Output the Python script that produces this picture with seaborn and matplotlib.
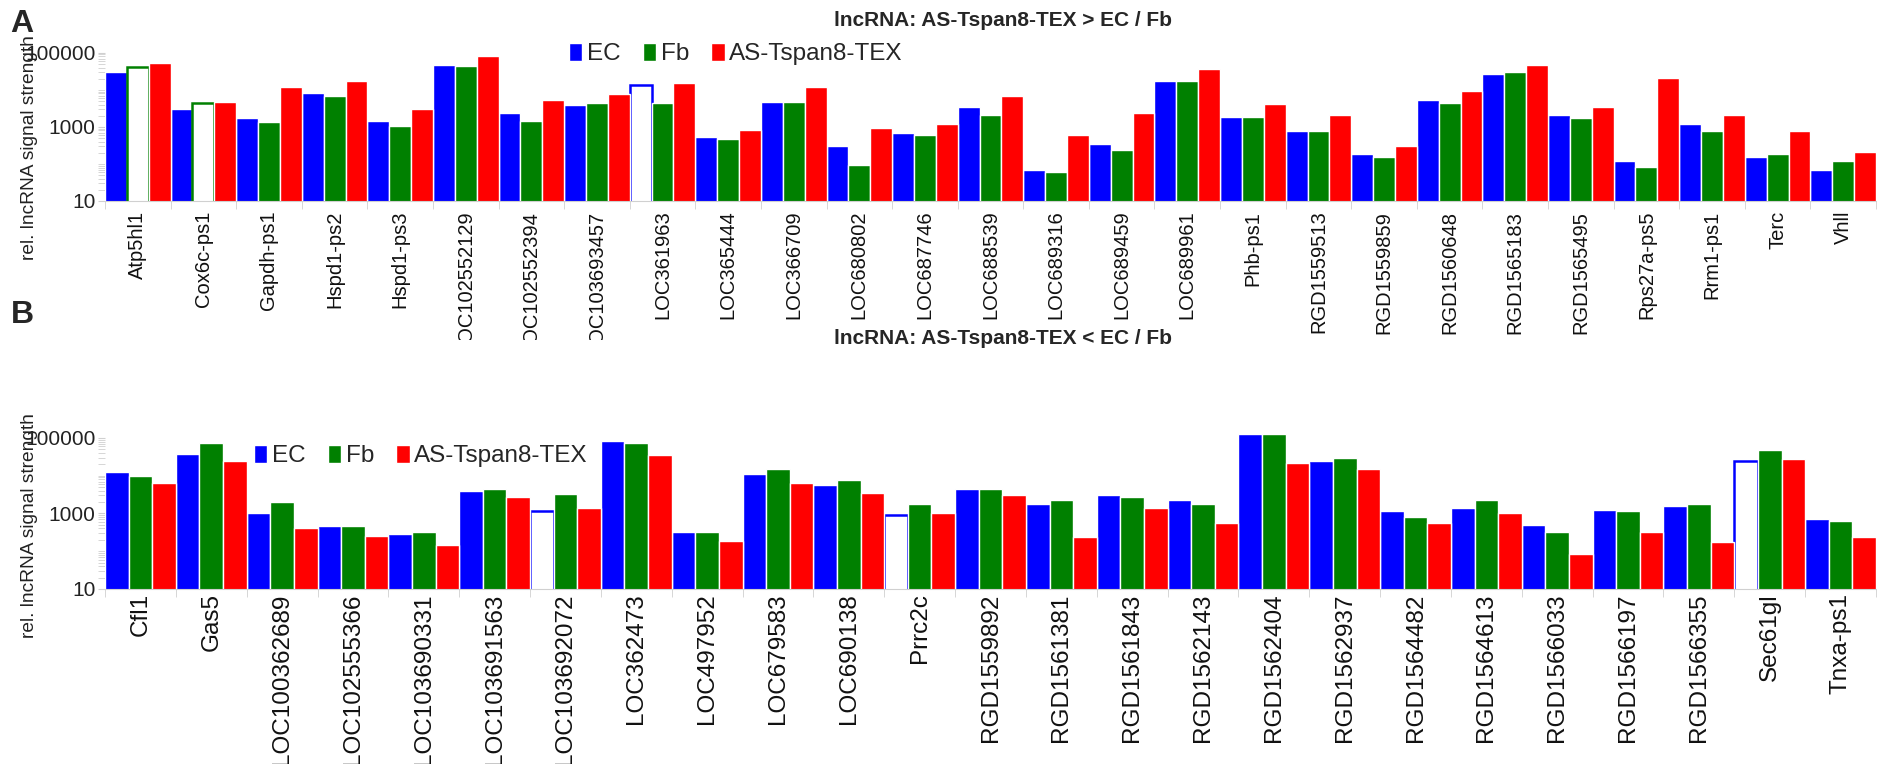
import numpy as np
import pandas as pd
import matplotlib
matplotlib.use("Agg")
import matplotlib.pyplot as plt
from matplotlib import font_manager
from matplotlib.ticker import FixedLocator, FixedFormatter, LogLocator, NullFormatter
from matplotlib.transforms import Bbox, TransformedBbox
from matplotlib.colors import to_rgb
import seaborn as sns

# panel A: lncRNA higher in AS-Tspan8-TEX
genes_a = ["Atp5hl1", "Cox6c-ps1", "Gapdh-ps1", "Hspd1-ps2", "Hspd1-ps3", "LOC102552129",
           "LOC102552394", "LOC103693457", "LOC361963", "LOC365444", "LOC366709", "LOC680802",
           "LOC687746", "LOC688539", "LOC689316", "LOC689459", "LOC689961", "Phb-ps1",
           "RGD1559513", "RGD1559859", "RGD1560648", "RGD1565183", "RGD1565495", "Rps27a-ps5",
           "Rrm1-ps1", "Terc", "Vhll"]
ec_a = [31000, 3100, 1700, 8300, 1480, 48000, 2400, 3800, 13800, 540, 4700, 300, 680, 3400,
        68, 340, 17000, 1900, 760, 190, 5400, 27000, 2100, 120, 1200, 150, 68]
fb_a = [42000, 4300, 1340, 6700, 1070, 43000, 1480, 4300, 4300, 475, 4700, 96, 600, 2140,
        59, 236, 17000, 1900, 760, 150, 4300, 30500, 1700, 85, 760, 190, 120]
as_a = [53000, 4700, 12000, 17400, 3100, 84000, 5400, 7600, 15500, 850, 12000, 960, 1200, 6700,
        600, 2400, 37000, 4200, 2100, 300, 9500, 48000, 3400, 21500, 2100, 760, 215]
open_a = [("Atp5hl1", "Fb"), ("Cox6c-ps1", "Fb"), ("LOC361963", "EC")]

# panel B: lncRNA lower in AS-Tspan8-TEX
genes_b = ["Cfl1", "Gas5", "LOC100362689", "LOC102555366", "LOC103690331", "LOC103691563",
           "LOC103692072", "LOC362473", "LOC497952", "LOC679583", "LOC690138", "Prrc2c",
           "RGD1559892", "RGD1561381", "RGD1561843", "RGD1562143", "RGD1562404", "RGD1562937",
           "RGD1564482", "RGD1564613", "RGD1566033", "RGD1566197", "RGD1566355", "Sec61gl",
           "Tnxa-ps1"]
ec_b = [12300, 38000, 1020, 455, 290, 4000, 1150, 85000, 325, 11000, 5600, 890, 4400, 1780,
        3150, 2230, 130000, 24000, 1150, 1400, 510, 1260, 1580, 24000, 720]
fb_b = [9600, 75000, 2000, 455, 320, 4400, 3200, 75000, 325, 15400, 7800, 1780, 4400, 2230,
        2800, 1780, 130000, 30000, 800, 2230, 320, 1150, 1780, 47000, 640]
as_b = [6300, 24000, 400, 260, 145, 2800, 1400, 35000, 185, 6300, 3550, 1000, 3150, 235,
        1400, 560, 22000, 15400, 570, 1000, 82, 320, 180, 27000, 235]
open_b = [("LOC103692072", "EC"), ("Prrc2c", "EC"), ("Sec61gl", "EC")]

cells = ["EC", "Fb", "AS-Tspan8-TEX"]
colors = {"EC": "#0000ff", "Fb": "#008000", "AS-Tspan8-TEX": "#ff0000"}

sns.set_style("white")
names = {f.name for f in font_manager.fontManager.ttflist}
narrow = "Liberation Sans Narrow" if "Liberation Sans Narrow" in names else "Liberation Sans"
plt.rcParams["font.family"] = ["Liberation Sans", "DejaVu Sans"]

W, H = 1877, 764
fig = plt.figure(figsize=(W / 100, H / 100), dpi=100)


def long_table(genes, ec, fb, ast):
    rows = []
    for cell, vals in zip(cells, [ec, fb, ast]):
        for g, v in zip(genes, vals):
            rows.append({"gene": g, "cell": cell, "signal": v})
    return pd.DataFrame(rows)


def panel(rect, genes, ec, fb, ast, opened, ytop, xfs, xpad, legend_xy):
    ax = fig.add_axes(rect)
    df = long_table(genes, ec, fb, ast)
    sns.barplot(data=df, x="gene", y="signal", hue="cell", order=genes, hue_order=cells,
                palette=colors, width=1.0, edgecolor="white", linewidth=1.0,
                errorbar=None, saturation=1, ax=ax)
    ax.set_yscale("log", nonpositive="clip")
    ax.set_ylim(10, ytop)
    ax.set_xlim(-0.5, len(genes) - 0.5)

    # hollow bars
    for cont in ax.containers:
        for bar in cont:
            i = int(round(bar.get_x() + bar.get_width() / 2))
            fc = bar.get_facecolor()[:3]
            cell = [c for c in cells if np.allclose(fc, to_rgb(colors[c]), atol=0.02)][0]
            if (genes[i], cell) in opened:
                bar.set_facecolor("white")
                bar.set_edgecolor(colors[cell])
                bar.set_linewidth(1.8)

    ax.yaxis.set_major_locator(FixedLocator([10, 1000, 100000]))
    ax.yaxis.set_major_formatter(FixedFormatter(["10", "1000", "100000"]))
    ax.yaxis.set_minor_locator(LogLocator(base=10, subs=np.arange(1, 10), numticks=20))
    ax.yaxis.set_minor_formatter(NullFormatter())
    ax.tick_params(axis="y", which="both", left=True, color="#d0d0d0", length=5,
                   labelsize=15, pad=2, labelcolor="#222222")
    ax.set_xticks(np.arange(len(genes)))
    ax.set_xticklabels(genes)
    ax.set_xticks(np.arange(len(genes) + 1) - 0.5, minor=True)
    ax.tick_params(axis="x", which="major", length=0, labelsize=xfs, pad=xpad,
                   labelrotation=90, labelcolor="#111111")
    ax.tick_params(axis="x", which="minor", bottom=True, length=6, color="#d0d0d0")
    sns.despine(ax=ax, top=True, right=True)
    ax.spines["left"].set_visible(False)
    ax.spines["bottom"].set_color("#d0d0d0")
    ax.set_xlabel("")
    ax.set_ylabel("")

    sns.move_legend(ax, "center left", bbox_to_anchor=legend_xy, bbox_transform=fig.transFigure,
                    ncol=3, frameon=False, title=None, fontsize=17.5, handlelength=0.55,
                    handleheight=0.75, handletextpad=0.2, columnspacing=0.9,
                    borderpad=0, borderaxespad=0)
    return ax


left = 105 / W
width = (1876 - 105) / W

ax_a = panel([left, 1 - 201 / H, width, 149 / H], genes_a, ec_a, fb_a, as_a, open_a,
             1.05e5, 14.5, 7, (569 / W, 1 - 54 / H))
ax_b = panel([left, 1 - 589 / H, width, 156 / H], genes_b, ec_b, fb_b, as_b, open_b,
             1.35e5, 17.5, 3, (254 / W, 1 - 456 / H))

# panel A labels were cropped under the axis in the original figure
clip = TransformedBbox(Bbox([[0, 1 - 340 / H], [1, 1]]), fig.transFigure)
for lbl in ax_a.get_xticklabels():
    lbl.set_clip_box(clip)
    lbl.set_clip_on(True)

fig.text(22 / W, 1 - 24 / H, "A", fontsize=23, fontweight="bold", ha="center", va="center")
fig.text(22 / W, 1 - 315 / H, "B", fontsize=23, fontweight="bold", ha="center", va="center")
fig.text(1003 / W, 1 - 20 / H, "lncRNA: AS-Tspan8-TEX > EC / Fb", fontsize=15,
         fontweight="bold", ha="center", va="center", family=[narrow, "DejaVu Sans"])
fig.text(1003 / W, 1 - 338 / H, "lncRNA: AS-Tspan8-TEX < EC / Fb", fontsize=15,
         fontweight="bold", ha="center", va="center", family=[narrow, "DejaVu Sans"])
fig.text(30 / W, 1 - 148 / H, "rel. lncRNA signal strength", rotation=90, fontsize=13.8,
         ha="center", va="center", family=[narrow, "DejaVu Sans"], color="#222222")
fig.text(30 / W, 1 - 526 / H, "rel. lncRNA signal strength", rotation=90, fontsize=13.8,
         ha="center", va="center", family=[narrow, "DejaVu Sans"], color="#222222")

fig.savefig("out.png", dpi=100)
